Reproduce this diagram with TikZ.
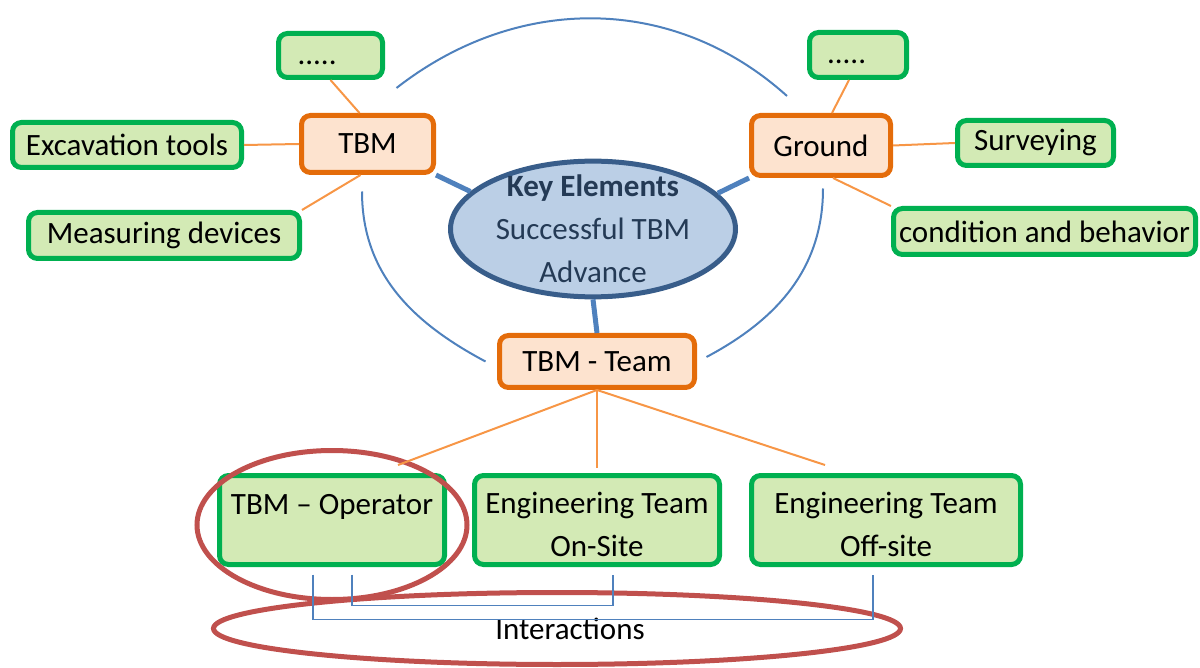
\documentclass[tikz,border=0pt]{standalone}
\usepackage{fontspec}
\setmainfont{Carlito}
\usetikzlibrary{shapes.geometric}

\definecolor{leafline}{HTML}{00B050}
\definecolor{leaffill}{HTML}{D3EAB5}
\definecolor{hubline}{HTML}{E46C0A}
\definecolor{hubfill}{HTML}{FDE3CF}
\definecolor{keyline}{HTML}{385D8A}
\definecolor{keyfill}{HTML}{BBCFE6}
\definecolor{keytext}{HTML}{243A55}
\definecolor{linkblue}{HTML}{4F81BD}
\definecolor{linkorange}{HTML}{F79646}
\definecolor{ringred}{HTML}{C0504D}

\newcommand{\toppad}{\rule{0pt}{31pt}}

\begin{document}
\begin{tikzpicture}[
  x=1pt, y=-1pt,
  font=\fontsize{31}{43}\selectfont,
  leaf/.style={draw=leafline, fill=leaffill, line width=5pt, rounded corners=9pt, align=center, inner sep=0pt},
  hub/.style={draw=hubline, fill=hubfill, line width=5pt, rounded corners=9pt, align=center, inner sep=0pt},
  ring/.style={draw=ringred, line width=5pt, ellipse, inner sep=0pt},
  twig/.style={draw=linkorange, line width=2pt},
  spoke/.style={draw=linkblue, line width=5pt},
  orbit/.style={draw=linkblue, line width=2pt},
  tie/.style={draw=linkblue, line width=1.5pt}
]
\useasboundingbox (0,0) rectangle (1200,668);

% centre
\node[ellipse, draw=keyline, fill=keyfill, line width=5pt, text=keytext, align=center,
      inner xsep=0pt, inner ysep=-6pt, minimum width=285pt, minimum height=135pt] (key) at (593,229)
  {\textbf{Key Elements}\\Successful TBM\\Advance};

% TBM side
\node[hub, minimum width=132pt, minimum height=57pt] (tbm) at (367.5,144) {TBM};
\node[leaf, minimum height=44pt, text width=66pt, inner xsep=19pt, align=left] (dotsL) at (330.5,55.5) {.....\strut};
\node[leaf, minimum width=229pt, minimum height=45pt] (excav) at (127,145) {Excavation tools};
\node[leaf, minimum width=271pt, minimum height=46pt] (measure) at (164,235.5) {Measuring devices};

% ground side
\node[hub, minimum width=139pt, minimum height=60pt] (ground) at (821,145.5) {Ground};
\node[leaf, minimum height=45pt, text width=62pt, inner xsep=17.5pt, align=left] (dotsR) at (858,55) {.....\strut};
\node[leaf, minimum width=156pt, minimum height=45pt] (survey) at (1035.5,143) {Surveying};
\node[leaf, minimum width=302pt, minimum height=46pt] (cond) at (1044.5,231.5) {condition and behavior};

% team side
\node[hub, minimum width=195pt, minimum height=52pt] (team) at (597,361.5) {TBM - Team};
\node[leaf, minimum width=225pt, minimum height=89pt] (oper) at (332,520) {\toppad TBM -- Operator\\\mbox{}};
\node[leaf, minimum width=245pt, minimum height=89pt] (onsite) at (597,520) {\toppad Engineering Team\\On-Site};
\node[leaf, minimum width=269pt, minimum height=89pt] (offsite) at (886,520) {\toppad Engineering Team\\Off-site};

\node[ring, minimum width=270pt, minimum height=149pt] (opring) at (332,525) {};
\node[ring, minimum width=687pt, minimum height=72pt] (interact) at (557,628.5) {\hspace*{26pt}Interactions};

% links
\draw[spoke] (tbm.south east) -- (key.163);
\draw[spoke] (ground.south west) -- (key.16);
\draw[spoke] (key.south) -- (team.north);

\draw[orbit] ([xshift=29pt,yshift=25pt]tbm.north) to[out=38,in=138] ([xshift=-34pt,yshift=17pt]ground.north);
\draw[orbit] ([xshift=-5.5pt,yshift=-16.5pt]tbm.south) to[out=-90,in=152] ([xshift=-11.5pt]team.west);
\draw[orbit] ([xshift=2pt,yshift=-10.5pt]ground.south) to[out=-90,in=28] ([xshift=9.5pt,yshift=4.5pt]team.east);

\draw[twig] (dotsL.south) -- ([xshift=-8pt]tbm.north);
\draw[twig] (excav.east) -- (tbm.west);
\draw[twig] ([xshift=-7pt]tbm.south) -- (measure.north east);
\draw[twig] ([xshift=-9pt]dotsR.south) -- ([xshift=11pt]ground.north);
\draw[twig] (ground.east) -- (survey.west);
\draw[twig] ([xshift=12pt]ground.south) -- (cond.north west);
\draw[twig] (team.south) -- ([xshift=66pt,yshift=8pt]oper.north);
\draw[twig] (team.south) -- ([yshift=5pt]onsite.north);
\draw[twig] (team.south) -- ([xshift=-61pt,yshift=8pt]offsite.north);

\draw[tie] ([xshift=-19pt,yshift=-7.5pt]oper.south) -- ++(0,45) -| ([xshift=-13pt,yshift=-7.5pt]offsite.south);
\draw[tie] ([xshift=20pt,yshift=-7.5pt]oper.south) -- ++(0,31) -| ([xshift=16pt,yshift=-7.5pt]onsite.south);
\end{tikzpicture}
\end{document}
